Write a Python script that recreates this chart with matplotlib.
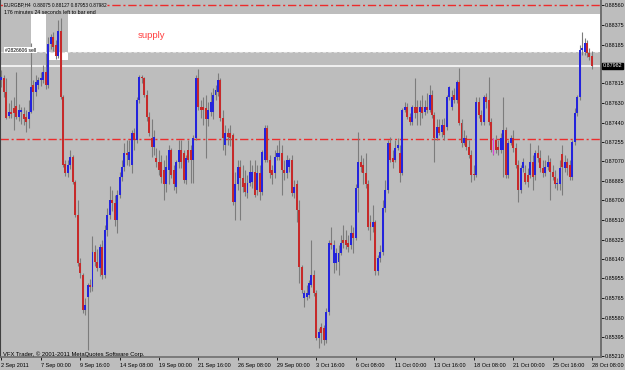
import matplotlib
matplotlib.use("Agg")
import matplotlib.pyplot as plt
from matplotlib.patches import Rectangle
import numpy as np

plt.rcParams['font.family'] = ['Liberation Sans', 'DejaVu Sans']

# --- chart texts ---
title_text = "EURGBP,H4  0.88075 0.88127 0.87953 0.87982"
timer_text = "176 minutes 24 seconds left to bar end"
copyright_text = "VFX Trader, \u00a9 2001-2011 MetaQuotes Software Corp."
order_text = "#2826606 sell"
zone_text = "supply"

# --- H4 bars, 2 Sep 2011 08:00 .. 28 Oct 2011 08:00 ---
bar_open = [
    0.8785, 0.8787, 0.8773, 0.8750, 0.8754, 0.8758, 0.8760, 0.8749, 0.8754, 0.8752,
    0.8749, 0.8747, 0.8754, 0.8780, 0.8773, 0.8780, 0.8785, 0.8785, 0.8792, 0.8780,
    0.8819, 0.8826, 0.8818, 0.8808, 0.8831, 0.8768, 0.8705, 0.8696, 0.8704, 0.8711,
    0.8687, 0.8656, 0.8610, 0.8599, 0.8565, 0.8578, 0.8589, 0.8587, 0.8621, 0.8611,
    0.8605, 0.8625, 0.8599, 0.8642, 0.8656, 0.8670, 0.8667, 0.8651, 0.8675, 0.8692,
    0.8702, 0.8715, 0.8708, 0.8704, 0.8734, 0.8727, 0.8766, 0.8788, 0.8787, 0.8770,
    0.8749, 0.8729, 0.8721, 0.8710, 0.8706, 0.8706, 0.8699, 0.8685, 0.8699, 0.8718,
    0.8699, 0.8683, 0.8706, 0.8718, 0.8715, 0.8689, 0.8718, 0.8718, 0.8708, 0.8729,
    0.8787, 0.8759, 0.8759, 0.8758, 0.8747, 0.8754, 0.8754, 0.8770, 0.8773, 0.8785,
    0.8748, 0.8723, 0.8734, 0.8734, 0.8732, 0.8668, 0.8685, 0.8702, 0.8691, 0.8686,
    0.8677, 0.8686, 0.8687, 0.8697, 0.8680, 0.8696, 0.8678, 0.8708, 0.8739, 0.8708,
    0.8699, 0.8696, 0.8711, 0.8711, 0.8715, 0.8699, 0.8696, 0.8702, 0.8708, 0.8677,
    0.8685, 0.8661, 0.8606, 0.8577, 0.8578, 0.8580, 0.8589, 0.8599, 0.8581, 0.8539,
    0.8549, 0.8548, 0.8537, 0.8563, 0.8629, 0.8610, 0.8610, 0.8611, 0.8620, 0.8632,
    0.8632, 0.8629, 0.8627, 0.8639, 0.8634, 0.8682, 0.8706, 0.8704, 0.8696, 0.8685,
    0.8649, 0.8644, 0.8649, 0.8602, 0.8615, 0.8621, 0.8663, 0.8680, 0.8725, 0.8710,
    0.8708, 0.8720, 0.8715, 0.8696, 0.8756, 0.8759, 0.8749, 0.8745, 0.8759, 0.8759,
    0.8754, 0.8759, 0.8754, 0.8759, 0.8756, 0.8770, 0.8751, 0.8729, 0.8740, 0.8735,
    0.8742, 0.8740, 0.8768, 0.8759, 0.8770, 0.8766, 0.8783, 0.8744, 0.8725, 0.8729,
    0.8721, 0.8713, 0.8695, 0.8694, 0.8764, 0.8751, 0.8745, 0.8768, 0.8766, 0.8745,
    0.8718, 0.8727, 0.8721, 0.8718, 0.8718, 0.8737, 0.8694, 0.8725, 0.8729, 0.8720,
    0.8704, 0.8680, 0.8701, 0.8696, 0.8694, 0.8694, 0.8706, 0.8694, 0.8715, 0.8710,
    0.8701, 0.8696, 0.8702, 0.8706, 0.8697, 0.8692, 0.8685, 0.8685, 0.8714, 0.8701,
    0.8706, 0.8704, 0.8692, 0.8726, 0.8753, 0.8768, 0.8813, 0.8811, 0.8820, 0.8810,
    0.88075,
]
bar_high = [
    0.8794, 0.8789, 0.8787, 0.8763, 0.8766, 0.8768, 0.8792, 0.8762, 0.8759, 0.8759,
    0.8756, 0.8766, 0.8820, 0.8785, 0.8789, 0.8788, 0.8792, 0.8799, 0.8810, 0.8826,
    0.8829, 0.8830, 0.8823, 0.8842, 0.8844, 0.8770, 0.8708, 0.8708, 0.8718, 0.8713,
    0.8689, 0.8670, 0.8615, 0.8601, 0.8577, 0.8591, 0.8595, 0.8636, 0.8627, 0.8623,
    0.8628, 0.8632, 0.8646, 0.8663, 0.8684, 0.8680, 0.8675, 0.8680, 0.8697, 0.8708,
    0.8725, 0.8727, 0.8727, 0.8737, 0.8739, 0.8768, 0.8789, 0.8789, 0.8788, 0.8775,
    0.8754, 0.8747, 0.8737, 0.8720, 0.8718, 0.8713, 0.8708, 0.8713, 0.8723, 0.8720,
    0.8704, 0.8708, 0.8727, 0.8727, 0.8718, 0.8713, 0.8727, 0.8723, 0.8732, 0.8789,
    0.8795, 0.8766, 0.8768, 0.8770, 0.8764, 0.8773, 0.8777, 0.8780, 0.8791, 0.8787,
    0.8756, 0.8742, 0.8739, 0.8742, 0.8734, 0.8697, 0.8708, 0.8708, 0.8704, 0.8699,
    0.8694, 0.8708, 0.8704, 0.8708, 0.8704, 0.8704, 0.8718, 0.8742, 0.8742, 0.8713,
    0.8704, 0.8718, 0.8723, 0.8727, 0.8723, 0.8708, 0.8713, 0.8710, 0.8713, 0.8689,
    0.8689, 0.8670, 0.8608, 0.8584, 0.8589, 0.8594, 0.8632, 0.8603, 0.8584, 0.8548,
    0.8553, 0.8551, 0.8567, 0.8632, 0.8644, 0.8632, 0.8624, 0.8627, 0.8637, 0.8646,
    0.8642, 0.8637, 0.8646, 0.8644, 0.8685, 0.8735, 0.8713, 0.8710, 0.8715, 0.8689,
    0.8656, 0.8665, 0.8651, 0.8618, 0.8627, 0.8670, 0.8689, 0.8727, 0.8730, 0.8718,
    0.8727, 0.8729, 0.8723, 0.8758, 0.8764, 0.8763, 0.8753, 0.8761, 0.8787, 0.8766,
    0.8766, 0.8770, 0.8766, 0.8772, 0.8780, 0.8775, 0.8754, 0.8747, 0.8747, 0.8747,
    0.8748, 0.8770, 0.8779, 0.8775, 0.8777, 0.8785, 0.8796, 0.8747, 0.8737, 0.8732,
    0.8727, 0.8718, 0.8704, 0.8768, 0.8768, 0.8756, 0.8770, 0.8772, 0.8788, 0.8748,
    0.8729, 0.8732, 0.8727, 0.8734, 0.8768, 0.8740, 0.8727, 0.8732, 0.8737, 0.8725,
    0.8708, 0.8704, 0.8710, 0.8704, 0.8701, 0.8725, 0.8713, 0.8718, 0.8723, 0.8718,
    0.8708, 0.8708, 0.8713, 0.8710, 0.8704, 0.8699, 0.8691, 0.8708, 0.8723, 0.8713,
    0.8710, 0.8708, 0.8727, 0.8758, 0.8770, 0.8818, 0.8830, 0.8825, 0.8823, 0.8815,
    0.88127,
]
bar_low = [
    0.8778, 0.8768, 0.8747, 0.8748, 0.8748, 0.8737, 0.8747, 0.8746, 0.8743, 0.8742,
    0.8735, 0.8739, 0.8753, 0.8756, 0.8769, 0.8776, 0.8779, 0.8782, 0.8776, 0.8777,
    0.8814, 0.8812, 0.8805, 0.8806, 0.8767, 0.8702, 0.8693, 0.8692, 0.8700, 0.8685,
    0.8654, 0.8607, 0.8596, 0.8562, 0.8560, 0.8527, 0.8582, 0.8583, 0.8607, 0.8602,
    0.8598, 0.8595, 0.8596, 0.8636, 0.8652, 0.8660, 0.8645, 0.8639, 0.8672, 0.8688,
    0.8698, 0.8704, 0.8703, 0.8696, 0.8718, 0.8725, 0.8763, 0.8782, 0.8768, 0.8746,
    0.8731, 0.8711, 0.8713, 0.8702, 0.8694, 0.8686, 0.8670, 0.8678, 0.8685, 0.8691,
    0.8680, 0.8677, 0.8701, 0.8701, 0.8686, 0.8685, 0.8706, 0.8686, 0.8686, 0.8727,
    0.8756, 0.8748, 0.8742, 0.8710, 0.8741, 0.8750, 0.8747, 0.8766, 0.8769, 0.8746,
    0.8718, 0.8713, 0.8723, 0.8722, 0.8665, 0.8651, 0.8680, 0.8651, 0.8678, 0.8674,
    0.8672, 0.8684, 0.8682, 0.8673, 0.8675, 0.8670, 0.8675, 0.8706, 0.8706, 0.8691,
    0.8685, 0.8691, 0.8708, 0.8708, 0.8675, 0.8689, 0.8691, 0.8697, 0.8674, 0.8672,
    0.8649, 0.8591, 0.8581, 0.8568, 0.8575, 0.8577, 0.8587, 0.8579, 0.8537, 0.8529,
    0.8534, 0.8532, 0.8534, 0.8560, 0.8623, 0.8601, 0.8603, 0.8599, 0.8618, 0.8624,
    0.8623, 0.8621, 0.8623, 0.8620, 0.8632, 0.8659, 0.8697, 0.8685, 0.8682, 0.8642,
    0.8632, 0.8640, 0.8599, 0.8599, 0.8611, 0.8618, 0.8659, 0.8677, 0.8706, 0.8701,
    0.8706, 0.8718, 0.8687, 0.8694, 0.8754, 0.8747, 0.8742, 0.8742, 0.8748, 0.8742,
    0.8742, 0.8748, 0.8751, 0.8753, 0.8754, 0.8748, 0.8706, 0.8727, 0.8732, 0.8730,
    0.8727, 0.8737, 0.8766, 0.8756, 0.8763, 0.8763, 0.8742, 0.8721, 0.8723, 0.8718,
    0.8710, 0.8687, 0.8689, 0.8692, 0.8748, 0.8742, 0.8742, 0.8758, 0.8742, 0.8716,
    0.8713, 0.8715, 0.8713, 0.8715, 0.8692, 0.8691, 0.8691, 0.8723, 0.8716, 0.8701,
    0.8668, 0.8677, 0.8697, 0.8685, 0.8683, 0.8691, 0.8680, 0.8689, 0.8706, 0.8697,
    0.8692, 0.8693, 0.8699, 0.8670, 0.8689, 0.8682, 0.8680, 0.8680, 0.8675, 0.8697,
    0.8694, 0.8689, 0.8689, 0.8723, 0.8750, 0.8766, 0.8809, 0.8809, 0.8807, 0.8804,
    0.87953,
]
bar_close = [
    0.8788, 0.8773, 0.8748, 0.8754, 0.8752, 0.8753, 0.8749, 0.8756, 0.8756, 0.8747,
    0.8745, 0.8754, 0.8778, 0.8773, 0.8783, 0.8785, 0.8787, 0.8792, 0.8780, 0.8819,
    0.8826, 0.8816, 0.8808, 0.8831, 0.8768, 0.8704, 0.8696, 0.8704, 0.8711, 0.8687,
    0.8656, 0.8610, 0.8601, 0.8565, 0.8570, 0.8589, 0.8587, 0.8621, 0.8611, 0.8605,
    0.8625, 0.8599, 0.8642, 0.8656, 0.8670, 0.8667, 0.8651, 0.8675, 0.8692, 0.8702,
    0.8715, 0.8713, 0.8716, 0.8734, 0.8727, 0.8766, 0.8788, 0.8787, 0.8770, 0.8749,
    0.8734, 0.8721, 0.8730, 0.8706, 0.8699, 0.8692, 0.8685, 0.8702, 0.8718, 0.8694,
    0.8685, 0.8706, 0.8718, 0.8706, 0.8689, 0.8710, 0.8708, 0.8708, 0.8729, 0.8787,
    0.8759, 0.8756, 0.8756, 0.8747, 0.8756, 0.8764, 0.8770, 0.8775, 0.8785, 0.8748,
    0.8729, 0.8734, 0.8730, 0.8729, 0.8668, 0.8685, 0.8702, 0.8691, 0.8683, 0.8678,
    0.8686, 0.8697, 0.8697, 0.8675, 0.8696, 0.8678, 0.8716, 0.8739, 0.8708, 0.8696,
    0.8694, 0.8711, 0.8715, 0.8715, 0.8699, 0.8696, 0.8708, 0.8708, 0.8677, 0.8683,
    0.8661, 0.8606, 0.8584, 0.8581, 0.8581, 0.8591, 0.8599, 0.8581, 0.8539, 0.8544,
    0.8543, 0.8537, 0.8563, 0.8629, 0.8627, 0.8627, 0.8620, 0.8620, 0.8629, 0.8629,
    0.8627, 0.8625, 0.8639, 0.8634, 0.8682, 0.8706, 0.8702, 0.8696, 0.8685, 0.8644,
    0.8644, 0.8649, 0.8602, 0.8615, 0.8621, 0.8663, 0.8680, 0.8725, 0.8708, 0.8706,
    0.8720, 0.8723, 0.8696, 0.8756, 0.8759, 0.8749, 0.8745, 0.8759, 0.8753, 0.8753,
    0.8759, 0.8753, 0.8759, 0.8756, 0.8770, 0.8751, 0.8729, 0.8740, 0.8734, 0.8742,
    0.8732, 0.8768, 0.8778, 0.8768, 0.8766, 0.8783, 0.8744, 0.8725, 0.8729, 0.8721,
    0.8713, 0.8694, 0.8694, 0.8764, 0.8751, 0.8745, 0.8768, 0.8764, 0.8745, 0.8718,
    0.8727, 0.8718, 0.8718, 0.8729, 0.8737, 0.8694, 0.8725, 0.8729, 0.8720, 0.8704,
    0.8680, 0.8701, 0.8706, 0.8687, 0.8687, 0.8706, 0.8692, 0.8715, 0.8710, 0.8701,
    0.8696, 0.8702, 0.8706, 0.8697, 0.8692, 0.8685, 0.8686, 0.8701, 0.8702, 0.8706,
    0.8701, 0.8692, 0.8726, 0.8753, 0.8768, 0.8813, 0.8815, 0.8820, 0.8810, 0.8807,
    0.87982,
]

time_labels = ["2 Sep 2011", "7 Sep 00:00", "9 Sep 16:00", "14 Sep 08:00",
               "19 Sep 00:00", "21 Sep 16:00", "26 Sep 08:00", "29 Sep 00:00",
               "3 Oct 16:00", "6 Oct 08:00", "11 Oct 00:00", "13 Oct 16:00",
               "18 Oct 08:00", "21 Oct 00:00", "25 Oct 16:00", "28 Oct 08:00"]
bars_per_label = 16

price_ticks = [0.88560, 0.88375, 0.88185, 0.87815, 0.87630, 0.87440, 0.87255,
               0.87070, 0.86885, 0.86700, 0.86510, 0.86325, 0.86140, 0.85955,
               0.85765, 0.85580, 0.85395, 0.85210]

# objects on the chart
supply_top, supply_bottom, supply_start = 0.8848, 0.8811, 12
second_box_bars, second_box_bottom = (18, 27), 0.8804
sell_order_price = 0.8811
upper_level = 0.8856
middle_level = 0.8728
pink_mark_bar, pink_mark_range = 200, (0.8714, 0.8729)

BG = "#bdbdbd"
W, H = 625, 370

fig = plt.figure(figsize=(6.25, 3.7), dpi=100, facecolor=BG)
ax = fig.add_axes([0.0, 1 - 357 / H, 601 / W, 357 / H])
ax.set_facecolor(BG)

o = np.array(bar_open)
hi = np.array(bar_high)
lo = np.array(bar_low)
c = np.array(bar_close)
x = np.arange(len(c))
x_right = 243.7
ax.set_xlim(-0.6, x_right)
ax.set_ylim(0.85204, 0.8861)

# background objects
ax.add_patch(Rectangle((supply_start, supply_bottom), x_right - supply_start,
                       supply_top - supply_bottom, facecolor="white", lw=0, zorder=1))
b0, b1 = second_box_bars
ax.add_patch(Rectangle((b0, second_box_bottom), b1 - b0, supply_top - second_box_bottom,
                       facecolor="white", lw=0, zorder=1))
ax.add_patch(Rectangle((b0, supply_bottom), b1 - b0, supply_top - supply_bottom,
                       facecolor=BG, lw=0, zorder=1.5))

ax.axhline(upper_level, color="#ec2c2c", lw=1.0, ls=(0, (6, 2, 1.5, 2)), zorder=2)
ax.axhline(middle_level, color="#ec2c2c", lw=1.0, ls=(0, (6, 2, 1.5, 2)), zorder=2)
ax.axhline(sell_order_price, color="#dcdcdc", lw=0.8, ls=(0, (3, 2)), zorder=2)

# candles
ax.vlines(x, lo, hi, colors="#7c7c7c", lw=0.8, zorder=3)
up = c >= o
body = np.maximum(np.abs(c - o), 0.00006)
ax.bar(x[up], body[up], bottom=o[up], width=0.8, color="#2424dc", lw=0, zorder=4)
ax.bar(x[~up], body[~up], bottom=c[~up], width=0.8, color="#c62a2a", lw=0, zorder=4)
ax.vlines(pink_mark_bar, *pink_mark_range, colors="#e040e0", lw=0.8, zorder=5)

# bid line
bid = bar_close[-1]
ax.axhline(bid, color="white", lw=1.1, zorder=2.5)

# axes
ax.spines["top"].set_visible(False)
ax.spines["left"].set_color("#404040")
ax.spines["right"].set_color("#6e6e6e")
ax.spines["right"].set_linewidth(1.4)
ax.spines["bottom"].set_color("#6e6e6e")
ax.spines["bottom"].set_linewidth(1.2)

ax.yaxis.tick_right()
ax.set_yticks(price_ticks)
ax.set_yticklabels([f"{p:.5f}" for p in price_ticks])
ax.tick_params(axis="y", direction="out", length=2, pad=0.8, labelsize=3.9,
               color="black", width=0.6)
ax.set_xticks(np.arange(0, len(c), bars_per_label))
ax.set_xticklabels(time_labels)
ax.tick_params(axis="x", direction="out", length=2.5, pad=1.5, labelsize=4.0,
               color="black", width=0.6)
for lbl in ax.get_xticklabels():
    lbl.set_ha("left")

ax.text(1.003, bid, f"{bid:.5f}", transform=ax.get_yaxis_transform(),
        color="white", fontsize=3.9, va="center", ha="left",
        bbox=dict(facecolor="black", edgecolor="black", pad=0.6), zorder=10,
        clip_on=False)

# texts
fig.text(4 / W, 1 - 2 / H, title_text, fontsize=3.4, va="top", ha="left",
         bbox=dict(facecolor=BG, edgecolor="none", pad=0.5))
fig.text(4 / W, 1 - 9.5 / H, timer_text, fontsize=3.8, va="top", ha="left")
fig.text(3 / W, 1 - 354.5 / H, copyright_text, fontsize=4.2, va="center", ha="left")
fig.text(5 / W, 1 - 50 / H, order_text, fontsize=3.6, va="center", ha="left",
         bbox=dict(facecolor="white", edgecolor="none", pad=0.6))
fig.text(151 / W, 1 - 36 / H, zone_text, fontsize=6.8, va="center", ha="center",
         color="#ff4040")

fig.savefig("out.png", dpi=100, facecolor=BG)
